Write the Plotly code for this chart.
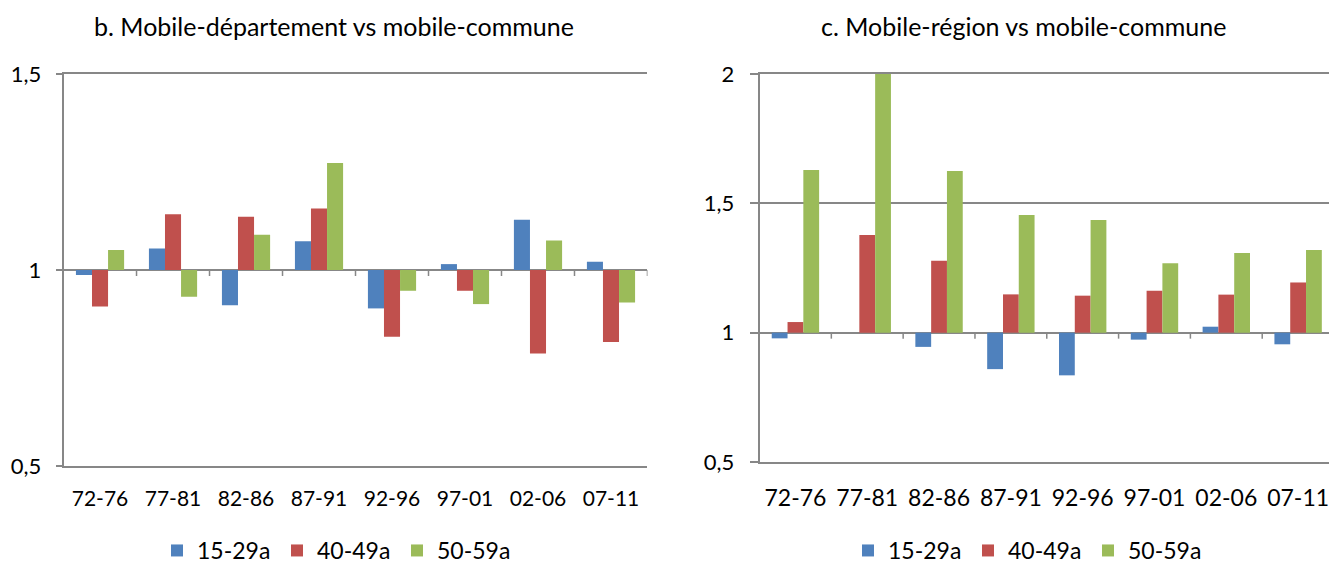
import plotly.graph_objects as go

periods = ["72-76", "77-81", "82-86", "87-91", "92-96", "97-01", "02-06", "07-11"]
groups = ["15-29a", "40-49a", "50-59a"]

# b. Mobile-département vs mobile-commune
dep_15_29 = [0.987, 1.055, 0.910, 1.073, 0.902, 1.015, 1.128, 1.021]
dep_40_49 = [0.907, 1.142, 1.136, 1.157, 0.830, 0.947, 0.787, 0.816]
dep_50_59 = [1.051, 0.932, 1.090, 1.273, 0.947, 0.913, 1.075, 0.917]

# c. Mobile-région vs mobile-commune
reg_15_29 = [0.978, 1.000, 0.945, 0.859, 0.835, 0.973, 1.023, 0.955]
reg_40_49 = [1.041, 1.378, 1.278, 1.148, 1.143, 1.162, 1.147, 1.194]
reg_50_59 = [1.629, 2.000, 1.625, 1.455, 1.436, 1.268, 1.308, 1.320]

colors = ["#4F81BD", "#C0504D", "#9BBB59"]
FONT = "Lato, 'Open Sans', sans-serif"

fig = go.Figure()

# bars hang from the category axis which crosses at 1
for name, vals, col in zip(groups, [dep_15_29, dep_40_49, dep_50_59], colors):
    fig.add_trace(go.Bar(x=periods, y=[v - 1 for v in vals], base=1, name=name,
                         marker=dict(color=col, line=dict(width=0)),
                         xaxis="x", yaxis="y", legend="legend"))
for name, vals, col in zip(groups, [reg_15_29, reg_40_49, reg_50_59], colors):
    fig.add_trace(go.Bar(x=periods, y=[v - 1 for v in vals], base=1, name=name,
                         marker=dict(color=col, line=dict(width=0)),
                         xaxis="x2", yaxis="y2", legend="legend2"))

grid = "#878787"

fig.update_layout(
    width=1329, height=563,
    margin=dict(l=0, r=0, t=0, b=0, autoexpand=False),
    paper_bgcolor="white", plot_bgcolor="white",
    separators=", ",
    barmode="group", bargap=0.34, bargroupgap=0,
    font=dict(family=FONT, color="#000000"),
    xaxis=dict(type="category", domain=[0.0478, 0.4872], range=[-0.5, 7.5], showgrid=False,
               ticks="outside", ticklen=13, tickcolor="rgba(0,0,0,0)",
               tickfont=dict(size=21), anchor="y", automargin=False,
               showline=True, mirror=True, linecolor=grid, linewidth=1.5),
    yaxis=dict(domain=[0.1723, 0.8686], range=[0.5, 1.5], dtick=0.5,
               showgrid=True, gridcolor=grid, gridwidth=1.5, zeroline=False,
               showline=True, linecolor=grid, linewidth=1.5,
               ticks="outside", ticklen=6, tickcolor=grid, tickwidth=1.5,
               ticklabelstandoff=10, automargin=False,
               tickfont=dict(size=22), anchor="x"),
    xaxis2=dict(type="category", domain=[0.5715, 1.0], range=[-0.5, 7.43], showgrid=False,
                ticks="outside", ticklen=15, tickcolor="rgba(0,0,0,0)",
                tickfont=dict(size=23), anchor="y2", automargin=False,
                showline=True, mirror=True, linecolor=grid, linewidth=1.5),
    yaxis2=dict(domain=[0.1794, 0.8686], range=[0.5, 2.0], dtick=0.5,
                showgrid=True, gridcolor=grid, gridwidth=1.5, zeroline=False,
                showline=True, linecolor=grid, linewidth=1.5,
                ticks="outside", ticklen=8, tickcolor=grid, tickwidth=1.5,
                ticklabelstandoff=11, automargin=False,
                tickfont=dict(size=22), anchor="x2"),
    legend=dict(orientation="h", x=157 / 1329, xanchor="left", y=-0.016, yanchor="bottom",
                font=dict(size=23), itemwidth=30, entrywidth=75, traceorder="normal"),
    legend2=dict(orientation="h", x=848 / 1329, xanchor="left", y=-0.016, yanchor="bottom",
                 font=dict(size=23), itemwidth=30, entrywidth=75, traceorder="normal"),
    showlegend=True,
)

# subplot titles
title_y = 1 - 26 / 563
fig.add_annotation(text="b. Mobile-département vs mobile-commune", x=0.2513, y=title_y,
                   xref="paper", yref="paper", xanchor="center", yanchor="middle",
                   showarrow=False, font=dict(size=25))
fig.add_annotation(text="c. Mobile-région vs mobile-commune", x=0.7705, y=title_y,
                   xref="paper", yref="paper", xanchor="center", yanchor="middle",
                   showarrow=False, font=dict(size=25))

# short tick marks on the category axis (line at 1) between periods
for xa, ya in [("x", "y"), ("x2", "y2")]:
    for k in range(len(periods)):
        fig.add_shape(type="line", xref=xa, yref=ya, x0=k + 0.5, x1=k + 0.5,
                      ysizemode="pixel", yanchor=1, y0=0, y1=-6,
                      line=dict(color=grid, width=1.5))

# drop the browser's default body margin so the figure sits at the page corner
fig.write_html("out.html", config={"displayModeBar": False},
               post_script="document.body.style.margin='0';")
